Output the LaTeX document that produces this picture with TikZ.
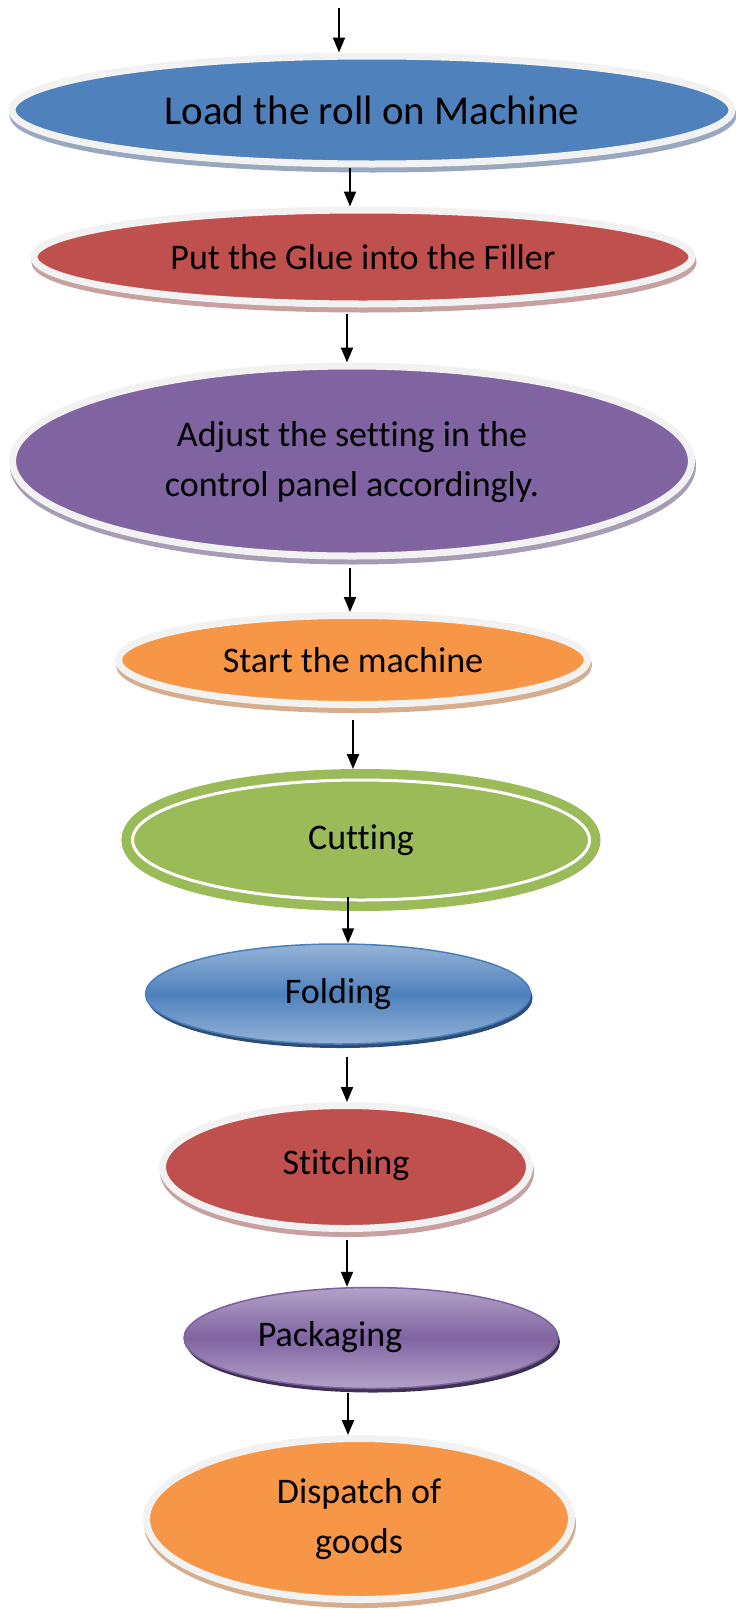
\documentclass[tikz,border=0pt]{standalone}
\usepackage{fontspec}
\setmainfont{Carlito}[Ligatures = NoCommon]
\usetikzlibrary{shapes.geometric, shadows, arrows.meta}

\definecolor{rimgrey}{HTML}{F2F2F2}
\definecolor{loadblue}{HTML}{4F81BD}
\definecolor{loadshade}{HTML}{97A8C0}
\definecolor{gluered}{HTML}{C0504D}
\definecolor{glueshade}{HTML}{C7A09F}
\definecolor{adjpurple}{HTML}{8064A2}
\definecolor{adjshade}{HTML}{A69CB5}
\definecolor{startorange}{HTML}{F79646}
\definecolor{startshade}{HTML}{D6AE8E}
\definecolor{cutgreen}{HTML}{9BBB59}
\definecolor{foldlight}{HTML}{95B3D7}
\definecolor{foldmid}{HTML}{4F81BD}
\definecolor{foldline}{HTML}{4A7EBB}
\definecolor{foldshade}{HTML}{2C4D75}
\definecolor{packlight}{HTML}{B3A2C7}
\definecolor{packmid}{HTML}{8064A2}
\definecolor{packline}{HTML}{7D60A0}
\definecolor{packshade}{HTML}{3F3151}

\tikzset{
  steptext/.style = {font = \fontsize{36pt}{50pt}\selectfont, align = center},
  rimdisc/.style 2 args = {steptext, shape = ellipse, inner sep = 0pt, fill = #1,
    draw = rimgrey, line width = 7pt,
    general shadow = {fill = #2, draw = #2, shadow xshift = 1pt, shadow yshift = -5pt}},
  ringdisc/.style = {steptext, shape = ellipse, inner sep = 0pt,
    preaction = {draw = cutgreen, line width = 22pt}, fill = cutgreen,
    draw = white, line width = 3pt, outer sep = 11pt},
  glossdisc/.style n args = {4}{steptext, shape = ellipse, inner sep = 0pt,
    draw = #3, line width = 1.5pt, top color = #1, bottom color = #1, middle color = #2,
    general shadow = {fill = #4, shadow xshift = 2pt, shadow yshift = -4pt}},
  flow/.style = {draw, line width = 2pt, -{Triangle[length = 15pt, width = 12pt]}}
}

\begin{document}
\begin{tikzpicture}
\useasboundingbox (0pt, 0pt) rectangle (736pt, -1609pt);

\coordinate (entry) at (339pt, -8pt);

\node [rimdisc = {loadblue}{loadshade}, minimum width = 720pt, minimum height = 108pt,
  font = \fontsize{41pt}{50pt}\selectfont] (load) at (372pt, -110pt) {Load the roll on Machine};
\node [rimdisc = {gluered}{glueshade}, minimum width = 658pt, minimum height = 94pt] (glue) at (363pt, -257pt) {Put the Glue into the Filler};
\node [rimdisc = {adjpurple}{adjshade}, minimum width = 679pt, minimum height = 190pt] (adjust) at (352pt, -461pt) {\raisebox{6pt}{\begin{tabular}{c}Adjust the setting in the\\control panel accordingly.\end{tabular}}};
\node [rimdisc = {startorange}{startshade}, minimum width = 469pt, minimum height = 89pt] (start) at (353pt, -660pt) {Start the machine};
\node [ringdisc, minimum width = 457pt, minimum height = 120pt] (cutting) at (361pt, -840pt) {Cutting};
\node [glossdisc = {foldlight}{foldmid}{foldline}{foldshade}, minimum width = 385pt, minimum height = 100pt] (folding) at (338pt, -994pt) {Folding};
\node [rimdisc = {gluered}{glueshade}, minimum width = 367pt, minimum height = 123pt] (stitching) at (346pt, -1167pt) {\raisebox{10pt}{Stitching}};
\node [glossdisc = {packlight}{packmid}{packline}{packshade}, minimum width = 374pt, minimum height = 101pt] (packaging) at (371pt, -1338pt) {};
\node [steptext] (packlabel) at (330pt, -1337pt) {Packaging};
\node [rimdisc = {startorange}{startshade}, minimum width = 425pt, minimum height = 161pt] (dispatch) at (359pt, -1519pt) {Dispatch of\\goods};

% connectors
\path [flow] (entry) -- (entry |- load.north);
\path [flow] ([xshift = -22pt]load.south) -- ([xshift = -13pt]glue.north);
\path [flow, shorten <= 6pt] ([xshift = -16pt]glue.south) -- ([xshift = -5pt]adjust.north);
\path [flow, shorten <= 8pt] ([xshift = -2pt]adjust.south) -- ([xshift = -3pt]start.north);
\path [flow, shorten <= 12pt] (start.south) -- ([xshift = -8pt]cutting.north);
\path [flow, shorten <= -14pt] ([xshift = -13pt]cutting.south) -- ([xshift = 10pt]folding.north);
\path [flow, shorten <= 12pt] ([xshift = 9pt]folding.south) -- ([xshift = 1pt]stitching.north);
\path [flow, shorten <= 8pt] ([xshift = 1pt]stitching.south) -- ([xshift = -24pt]packaging.north);
\path [flow, shorten <= 4pt] ([xshift = -23pt]packaging.south) -- ([xshift = -11pt]dispatch.north);

\end{tikzpicture}
\end{document}
